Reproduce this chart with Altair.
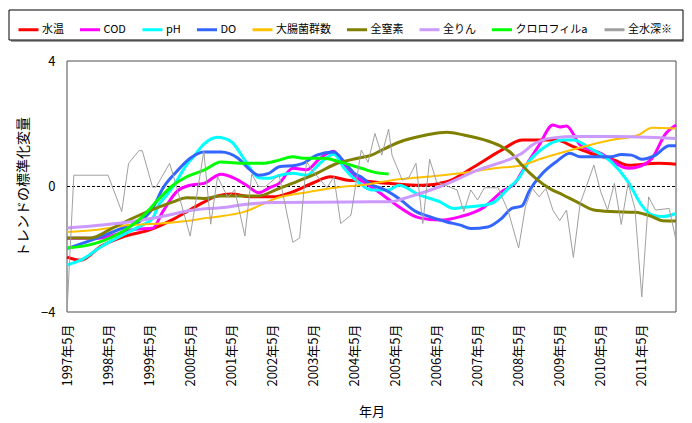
import altair as alt
import pandas as pd

FONT = "Noto Sans CJK JP"

series_names = ["水温", "COD", "pH", "DO", "大腸菌群数", "全窒素", "全りん", "クロロフィルa", "全水深※"]
series_colors = ["#FF0000", "#FF00FF", "#00FFFF", "#3366FF", "#FFC000", "#808000", "#CC99FF", "#00FF00", "#A0A0A0"]
series_widths = [3, 3, 3, 3, 2, 3, 3, 3, 1]

# x tick labels (every 12 months from 1997年5月)
tick_months = [0, 12, 24, 36, 48, 60, 72, 84, 96, 108, 120, 132, 144, 156, 168]
tick_labels = ["1997年5月", "1998年5月", "1999年5月", "2000年5月", "2001年5月", "2002年5月",
               "2003年5月", "2004年5月", "2005年5月", "2006年5月", "2007年5月", "2008年5月",
               "2009年5月", "2010年5月", "2011年5月"]

# month offsets from 1997年5月 and trend values
suion_m = [0, 4, 10, 16, 25, 31, 35, 40, 44, 48, 54, 60, 66, 72, 77, 82, 86, 94, 104, 111, 119, 127, 133, 143, 148, 153, 160, 164, 173, 178]
suion_v = [-2.25, -2.35, -1.9, -1.62, -1.35, -1.05, -0.8, -0.5, -0.3, -0.24, -0.33, -0.33, -0.17, 0.12, 0.31, 0.2, 0.18, 0.1, 0.04, 0.15, 0.63, 1.16, 1.48, 1.48, 1.27, 1.06, 0.84, 0.68, 0.74, 0.71]

cod_m = [0, 9, 20, 25, 28, 32, 36, 40, 44, 45, 49, 53, 56, 59, 62, 66, 70, 74, 78, 80, 83, 86, 91, 95, 103, 109, 115, 122, 127, 131, 133, 138, 142, 144, 146, 150, 156, 164, 167, 171, 175, 178]
cod_v = [-1.65, -1.65, -1.36, -1.33, -0.8, -0.17, 0.04, 0.1, 0.36, 0.39, 0.26, 0.0, -0.2, -0.05, 0.1, 0.58, 0.53, 0.9, 1.12, 0.8, 0.45, 0.2, -0.17, -0.49, -1.0, -1.07, -0.96, -0.65, -0.17, 0.12, 0.47, 1.32, 1.96, 1.9, 1.93, 1.32, 1.06, 0.58, 0.63, 0.9, 1.69, 1.96]

ph_m = [0, 4, 10, 17, 22, 25, 27, 29, 31, 33, 35, 37, 40, 44, 48, 52, 56, 59, 62, 66, 70, 74, 78, 81, 85, 89, 94, 97, 103, 109, 113, 117, 122, 125, 129, 132, 135, 139, 145, 148, 153, 159, 164, 168, 171, 174, 178]
ph_v = [-2.5, -2.35, -1.92, -1.5, -1.23, -1.02, -0.55, -0.3, 0.0, 0.35, 0.7, 0.95, 1.35, 1.57, 1.43, 0.84, 0.28, 0.26, 0.35, 0.42, 0.36, 0.75, 1.03, 0.58, 0.15, -0.11, -0.11, 0.04, -0.27, -0.49, -0.7, -0.65, -0.6, -0.49, -0.06, 0.26, 0.79, 1.21, 1.48, 1.48, 1.21, 0.79, 0.15, -0.6, -0.91, -0.96, -0.86]

do_m = [0, 10, 17, 21, 25, 28, 32, 36, 40, 45, 50, 53, 56, 59, 62, 67, 69, 73, 78, 81, 84, 86, 89, 92, 97, 102, 106, 111, 115, 118, 123, 127, 130, 133, 135, 139, 143, 147, 150, 155, 159, 162, 165, 168, 172, 176, 178]
do_v = [-1.98, -1.6, -1.29, -1.13, -0.7, -0.06, 0.47, 0.9, 1.1, 1.1, 0.9, 0.58, 0.36, 0.42, 0.63, 0.68, 0.74, 1.0, 1.1, 0.79, 0.42, 0.3, 0.05, -0.06, -0.38, -0.8, -0.96, -1.13, -1.23, -1.34, -1.29, -1.02, -0.7, -0.62, -0.17, 0.42, 0.79, 1.06, 0.95, 0.95, 0.95, 1.02, 1.0, 0.87, 1.0, 1.3, 1.3]

coli_m = [0, 8, 18, 27, 35, 41, 45, 52, 61, 71, 81, 86, 95, 105, 115, 125, 133, 139, 149, 159, 167, 171, 178]
coli_v = [-1.45, -1.39, -1.23, -1.18, -1.1, -1.0, -0.95, -0.8, -0.38, -0.17, 0.0, 0.04, 0.2, 0.31, 0.42, 0.58, 0.68, 0.9, 1.21, 1.48, 1.64, 1.87, 1.85]

tn_m = [0, 7, 13, 19, 27, 31, 35, 40, 45, 56, 61, 67, 73, 79, 85, 89, 92, 97, 105, 111, 116, 123, 127, 130, 133, 137, 141, 145, 149, 154, 159, 166, 171, 174, 178]
tn_v = [-1.64, -1.64, -1.34, -1.02, -0.65, -0.49, -0.36, -0.38, -0.3, -0.3, -0.11, 0.15, 0.42, 0.74, 0.9, 1.0, 1.16, 1.41, 1.64, 1.73, 1.64, 1.45, 1.27, 1.05, 0.68, 0.26, -0.06, -0.27, -0.49, -0.75, -0.8, -0.82, -0.96, -1.09, -1.1]

tp_m = [0, 8, 18, 27, 37, 41, 45, 52, 61, 89, 94, 100, 110, 120, 130, 133, 136, 142, 149, 159, 178]
tp_v = [-1.32, -1.25, -1.13, -0.97, -0.75, -0.7, -0.68, -0.57, -0.51, -0.49, -0.49, -0.33, 0.04, 0.52, 0.9, 1.06, 1.32, 1.55, 1.59, 1.59, 1.53]

chl_m = [0, 8, 16, 22, 27, 31, 35, 40, 45, 52, 57, 61, 66, 69, 75, 79, 83, 86, 90, 94]
chl_v = [-1.96, -1.82, -1.45, -0.97, -0.38, 0.04, 0.31, 0.52, 0.78, 0.74, 0.74, 0.81, 0.95, 0.9, 0.9, 0.81, 0.68, 0.58, 0.45, 0.4]

depth_m = [0, 2, 12, 16, 18, 21, 22, 25, 26, 30, 32, 36, 40, 42, 44, 47, 49, 52, 54, 56, 58, 62, 66, 68, 70, 72, 76, 78, 80, 83,
           86, 88, 90, 92, 94, 95, 98, 100, 102, 104, 106, 108, 114, 116, 118, 120, 122, 126, 129, 132, 134, 136, 138, 140,
           142, 144, 146, 148, 150, 154, 156, 158, 160, 162, 164, 166, 168, 170, 172, 176, 178]
depth_v = [-4.0, 0.36, 0.36, -0.8, 0.74, 1.14, 1.14, -0.02, -0.02, 0.74, 0.0, -1.58, 1.12, -1.2, 0.31, -0.35, -0.1, -1.58, 0.4, 0.0, 0.0, 0.36, -1.78, -1.64, 0.79, 0.47, -0.04, 0.31, -1.18, -0.91,
           1.16, 0.77, 1.69, 1.0, 1.83, 1.0, 0.2, 0.3, 0.74, -1.18, 0.87, 0.15, -0.11, -0.8, -0.11, -0.43, -0.04, -0.04, -0.8, -1.96, -0.64, -0.06, -0.33, -0.06,
           -0.75, -1.09, -0.75, -2.26, -0.54, 0.68, -0.17, -0.75, 0.1, -1.21, 0.1, -0.7, -3.52, -0.33, -0.75, -0.7, -1.71]

month_lists = [suion_m, cod_m, ph_m, do_m, coli_m, tn_m, tp_m, chl_m, depth_m]
value_lists = [suion_v, cod_v, ph_v, do_v, coli_v, tn_v, tp_v, chl_v, depth_v]

rows = []
for name, w, ms, vs in zip(series_names, series_widths, month_lists, value_lists):
    for m, v in zip(ms, vs):
        rows.append({"系列": name, "太さ": w, "月": m, "値": v})
df = pd.DataFrame(rows)

label_expr = "{" + ",".join(f"'{m}':'{t}'" for m, t in zip(tick_months, tick_labels)) + "}[datum.value]"

# the view covers legend + plot; the plot occupies x 59..668, y 52..303 of it
x_enc = alt.X("月:Q",
              scale=alt.Scale(domain=[0, 178], range=[59, 668], nice=False, zero=False),
              axis=alt.Axis(values=tick_months, labelExpr=label_expr, labelAngle=270,
                            title="年月", grid=False, ticks=False, domain=False,
                            labelPadding=12, titlePadding=19, labelFontSize=13,
                            titleFontSize=13, titleFontWeight="normal"))
y_enc = alt.Y("値:Q",
              scale=alt.Scale(domain=[-4, 4], range=[303, 52], nice=False, zero=False),
              axis=alt.Axis(values=[-4, 0, 4], title="トレンドの標準化変量", grid=False,
                            ticks=False, domain=False, labelPadding=12, titlePadding=10,
                            offset=-59, labelFontSize=13, titleFontSize=14,
                            titleFontWeight="normal"))
color_enc = alt.Color("系列:N",
                      scale=alt.Scale(domain=series_names, range=series_colors),
                      legend=alt.Legend(orient="none", legendX=1, legendY=1,
                                        direction="horizontal", columns=9, title=None,
                                        symbolType="stroke", symbolSize=400, symbolStrokeWidth=3,
                                        labelFontSize=11, labelOffset=2, columnPadding=9.5,
                                        padding=8))
width_enc = alt.StrokeWidth("太さ:Q", scale=None)

one_row = pd.DataFrame({"k": [0]})

# legend frame and its shadow (decoration)
legend_shadow = alt.Chart(one_row).mark_rule(color="#a0a0a0", strokeWidth=2).encode(
    x=alt.value(3), x2=alt.value(676), y=alt.value(32))
legend_frame = alt.Chart(one_row).mark_rect(fill="#FFFFFF", stroke="#000000", strokeWidth=1).encode(
    x=alt.value(1), x2=alt.value(675), y=alt.value(1), y2=alt.value(31))

# plot-area border, through the data scales
plot_frame = alt.Chart(one_row).mark_rect(fillOpacity=0, stroke="#4d4d4d", strokeWidth=1).encode(
    x=alt.datum(0), x2=alt.datum(178), y=alt.datum(-4), y2=alt.datum(4))

zero_rule = alt.Chart(one_row).mark_rule(color="#000000", strokeDash=[3, 2], strokeWidth=1).encode(
    x=alt.datum(0), x2=alt.datum(178), y=alt.datum(0))

smooth = alt.Chart(df).transform_filter(alt.datum["系列"] != "全水深※").mark_line(
    interpolate="monotone").encode(x=x_enc, y=y_enc, color=color_enc, strokeWidth=width_enc,
                                   order=alt.Order("月:Q"))
jagged = alt.Chart(df).transform_filter(alt.datum["系列"] == "全水深※").mark_line(
    interpolate="linear").encode(x=x_enc, y=y_enc, color=color_enc, strokeWidth=width_enc,
                                 order=alt.Order("月:Q"))

chart = alt.layer(legend_shadow, legend_frame, plot_frame, zero_rule, smooth, jagged).properties(
    width=676, height=303,
    autosize=alt.AutoSizeParams(type="none"),
    padding={"left": 0, "top": 1, "right": 0, "bottom": 108},
).configure_view(
    stroke="transparent", strokeWidth=0
).configure_axis(
    labelFont=FONT, titleFont=FONT, labelColor="#000000", titleColor="#000000"
).configure_legend(
    labelFont=FONT, labelColor="#000000"
)

chart.save("out.html", embed_options={"renderer": "svg", "actions": False})
